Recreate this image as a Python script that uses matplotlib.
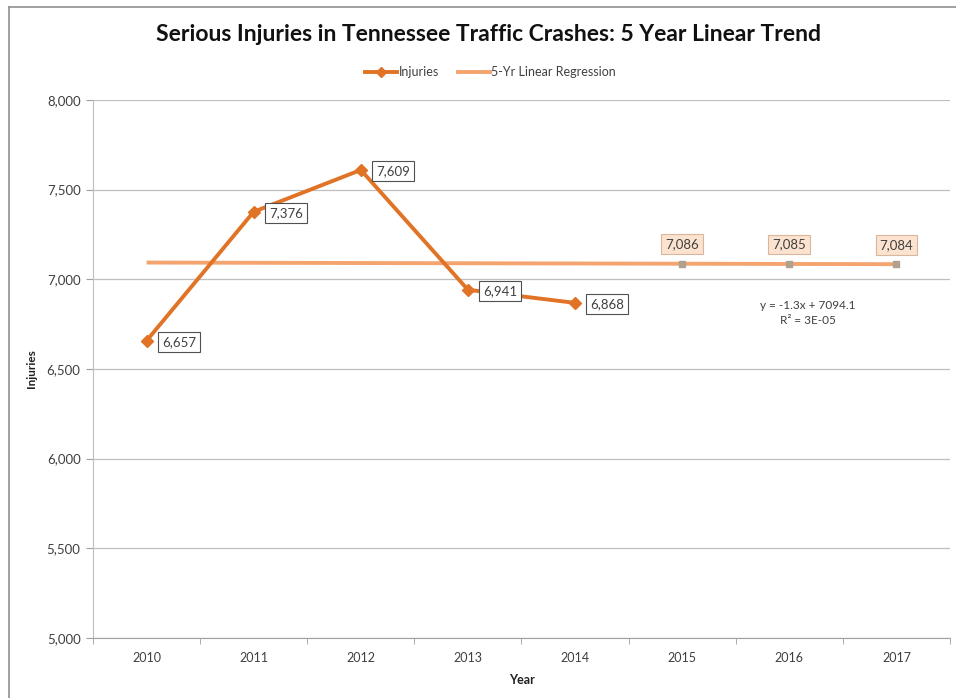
import numpy as np
import matplotlib
matplotlib.use("Agg")
import matplotlib.pyplot as plt
from matplotlib.lines import Line2D

# Data
years = ["2010", "2011", "2012", "2013", "2014", "2015", "2016", "2017"]
injuries = [6657, 7376, 7609, 6941, 6868]
forecast_years = ["2015", "2016", "2017"]

# Linear trend on the five observed years (x = 1..5), extended through 2017
x_obs = np.arange(1, len(injuries) + 1)
slope, intercept = np.polyfit(x_obs, injuries, 1)
x_all = np.arange(1, len(years) + 1)
trend = slope * x_all + intercept
x_fc = np.arange(len(injuries) + 1, len(years) + 1)
forecast = slope * x_fc + intercept

plt.rcParams['font.family'] = ['Lato', 'DejaVu Sans']

fig = plt.figure(figsize=(9.56, 6.98), dpi=100)
ax = fig.add_axes([0.0973, 0.086, 0.8964, 0.771])

c_inj = '#E07326'
c_reg = '#F4A46E'
text_c = '#404040'

pos = np.arange(len(years))
ax.plot(pos, trend, color=c_reg, lw=2.8, zorder=3, solid_capstyle='butt')
ax.plot(pos[len(injuries):], forecast, ls='none', marker='s', ms=4.5,
        color='#B0A090', zorder=4)
ax.plot(pos[:len(injuries)], injuries, color=c_inj, lw=2.8, marker='D',
        ms=6.5, zorder=5)

# Data labels for observed values
for p, v in zip(pos, injuries):
    ax.annotate(f"{v:,}", (p, v), xytext=(11, -1), textcoords='offset points',
                ha='left', va='center', fontsize=9.5, color=text_c, zorder=6,
                bbox=dict(boxstyle='square,pad=0.3', fc='white', ec='#505050', lw=0.8))

# Data labels for projected values
for p, v in zip(pos[len(injuries):], forecast):
    ax.annotate(f"{round(v):,}", (p, v), xytext=(0, 14), textcoords='offset points',
                ha='center', va='center', fontsize=9.5, color=text_c, zorder=6,
                bbox=dict(boxstyle='square,pad=0.3', fc='#FCE3CF', ec='#D9B79C', lw=0.8))

ax.text(6.17, 6885, f"y = {slope:.1f}x + {intercept:.1f}\nR² = 3E-05", ha='center',
        va='top', fontsize=8.5, color=text_c, linespacing=1.5)

ax.set_xlim(-0.5, len(years) - 0.5)
ax.set_ylim(5000, 8000)
ax.set_yticks(np.arange(5000, 8001, 500))
ax.yaxis.set_major_formatter(matplotlib.ticker.FuncFormatter(lambda v, _: f"{int(v):,}"))
ax.set_xticks(pos)
ax.set_xticklabels(years)
ax.set_xticks(np.arange(-0.5, len(years)), minor=True)
ax.tick_params(axis='x', which='major', length=0, pad=10, labelsize=9, colors=text_c)
ax.tick_params(axis='x', which='minor', length=4, color='#A0A0A0')
ax.tick_params(axis='y', length=5, color='#A0A0A0', labelsize=9.5, colors=text_c, pad=4)
ax.grid(axis='y', color='#BFBFBF', lw=0.9)
ax.set_axisbelow(True)
for s in ['top', 'right']:
    ax.spines[s].set_visible(False)
ax.spines['left'].set_color('#BFBFBF')
ax.spines['bottom'].set_color('#A0A0A0')

ax.set_ylabel("Injuries", fontsize=8.5, fontweight='bold', color='#202020', labelpad=7)
ax.set_xlabel("Year", fontsize=9, fontweight='bold', color='#202020', labelpad=7)

fig.text(0.511, 0.951, "Serious Injuries in Tennessee Traffic Crashes: 5 Year Linear Trend",
         ha='center', va='center', fontsize=16.5, fontweight='bold', color='#111111')

handles = [Line2D([], [], color=c_inj, lw=2.8, marker='D', ms=5),
           Line2D([], [], color=c_reg, lw=2.8)]
fig.legend(handles, ["Injuries", "5-Yr Linear Regression"], loc='center',
           bbox_to_anchor=(0.513, 0.897), ncol=2, frameon=False, fontsize=9,
           handlelength=2.6, handletextpad=0.1, columnspacing=1.5,
           labelcolor=text_c)

# Outer frame lines
fig.add_artist(Line2D([0.0094, 0.0094], [0, 0.99], transform=fig.transFigure,
                      color='#909090', lw=1.2))
fig.add_artist(Line2D([0.0094, 1.0], [0.99, 0.99], transform=fig.transFigure,
                      color='#909090', lw=1.2))

fig.savefig("out.png", dpi=100, facecolor='white')
